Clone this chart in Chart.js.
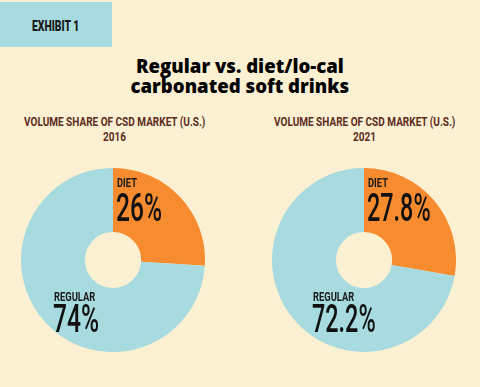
<!DOCTYPE html>
<html><head><meta charset="utf-8">
<script src="https://cdn.jsdelivr.net/npm/chart.js@4/dist/chart.umd.min.js"></script>
<style>
html,body{margin:0;padding:0;}
body{width:480px;height:387px;background:#FCF0D2;position:relative;overflow:hidden;font-family:Roboto,sans-serif;}
#exh{position:absolute;left:0;top:2px;width:112px;height:45px;background:#A7DBE0;}
.cw{position:absolute;width:184px;height:184px;top:168px;}
.t{position:absolute;white-space:nowrap;}
</style></head>
<body>
<div id="exh"></div>
<div class="cw" style="left:21px"><canvas id="c1"></canvas></div>
<div class="cw" style="left:272px"><canvas id="c2"></canvas></div>
<script>
const categories = ["DIET", "REGULAR"];
const share2016 = [26, 74];
const share2021 = [27.8, 72.2];
const years = ["2016", "2021"];
const colors = ["#F68B2F", "#A7DBE0"];

function mk(id, data){
  new Chart(document.getElementById(id), {
    type: 'doughnut',
    data: { labels: categories, datasets: [{ data: data, backgroundColor: colors, borderWidth: 0 }] },
    options: { responsive: true, maintainAspectRatio: false, animation: false, cutout: '30.5%',
      layout: { padding: 0 },
      plugins: { legend: { display: false }, tooltip: { enabled: false } } }
  });
}
mk('c1', share2016);
mk('c2', share2021);

function txt(s, x, base, size, opt){
  opt = opt || {};
  const fam = opt.fam || 'Roboto';
  const asc = opt.asc || 0.841;
  const d = document.createElement('div');
  d.className = 't';
  d.textContent = s;
  d.style.fontFamily = fam;
  d.style.fontSize = size + 'px';
  d.style.lineHeight = size + 'px';
  d.style.fontWeight = opt.w || 500;
  d.style.color = opt.c || '#111';
  if (opt.ls) d.style.letterSpacing = opt.ls + 'px';
  d.style.top = (base - asc * size) + 'px';
  const sx = opt.sx || 1;
  d.style.left = x + 'px';
  d.style.transformOrigin = '0 0';
  d.style.transform = 'scaleX(' + sx + ')';
  document.body.appendChild(d);
  if (opt.align === 'center') {
    const w = d.offsetWidth;
    d.style.left = (x - w * sx / 2) + 'px';
  }
}
const brown = '#5B2C1C';
txt('EXHIBIT 1', 56, 31, 14, {w:900, sx:0.74, align:'center', c:'#1a1a1a'});
txt('Regular vs. diet/lo-cal', 240, 74, 18.6, {fam:'Open Sans', asc:0.888, w:800, align:'center', c:'#000'});
txt('carbonated soft drinks', 240, 94, 18.6, {fam:'Open Sans', asc:0.888, w:800, align:'center', c:'#000'});
const cx = [114.5, 364.5];
for (let i = 0; i < 2; i++) {
  txt('VOLUME SHARE OF CSD MARKET (U.S.)', cx[i], 126, 13, {w:700, sx:0.77, align:'center', c:brown});
  txt(years[i], cx[i], 141, 13, {w:700, sx:0.77, align:'center', c:brown});
}
const fmt = v => v + '%';
txt(categories[0], 117, 187, 13, {w:700, sx:0.72, c:'#1a1a1a'});
txt(fmt(share2016[0]), 116, 222, 39, {w:500, sx:0.63});
txt(categories[1], 54, 301, 13, {w:700, sx:0.72, c:'#1a1a1a'});
txt(fmt(share2016[1]), 53, 333, 39, {w:500, sx:0.63});
txt(categories[0], 368, 187, 13, {w:700, sx:0.72, c:'#1a1a1a'});
txt(fmt(share2021[0]), 367, 222, 39, {w:500, sx:0.6});
txt(categories[1], 313, 301, 13, {w:700, sx:0.72, c:'#1a1a1a'});
txt(fmt(share2021[1]), 312, 333, 39, {w:500, sx:0.6});
</script>
</body></html>
